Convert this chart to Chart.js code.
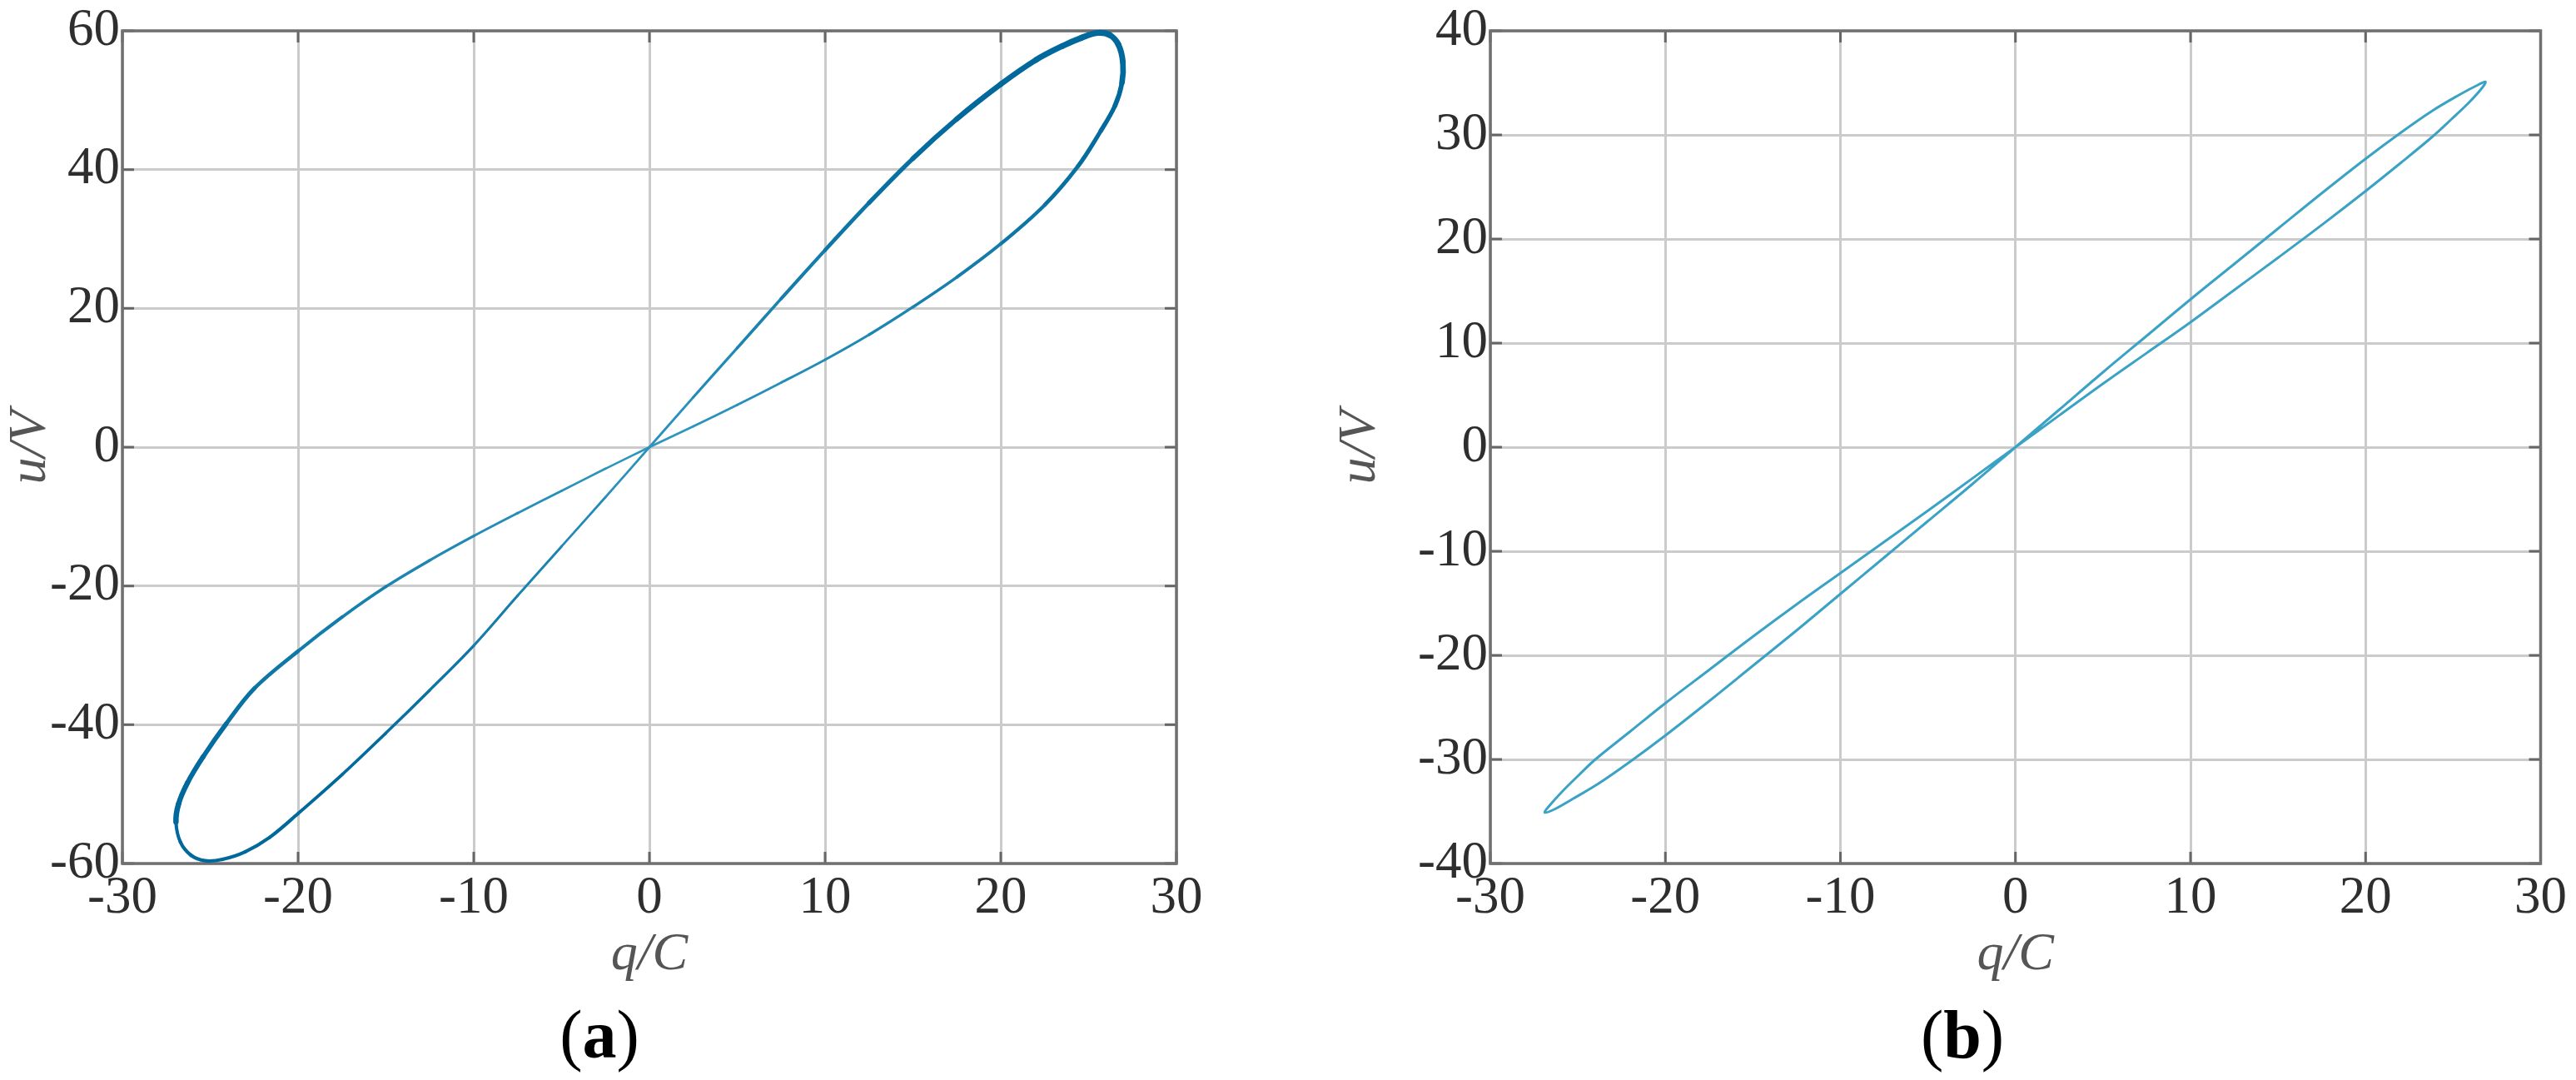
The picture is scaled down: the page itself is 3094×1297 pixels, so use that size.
<!DOCTYPE html>
<html><head><meta charset="utf-8">
<script src="https://cdn.jsdelivr.net/npm/chart.js@4.4.1/dist/chart.umd.min.js"></script>
<style>
html,body{margin:0;padding:0;background:#fff;}
#wrap{position:relative;width:3094px;height:1297px;overflow:hidden;background:#fff;}
.panel{position:absolute;top:0;width:1547px;height:1297px;}
.cap{position:absolute;font-family:"Liberation Serif","Times New Roman",serif;font-size:82px;color:#000;transform:translate(-50%,-50%);line-height:1;white-space:nowrap;}
</style></head><body>
<div id="wrap">
<div class="panel" style="left:0"><canvas id="ca" width="1547" height="1297"></canvas></div>
<div class="panel" style="left:1547px"><canvas id="cb" width="1547" height="1297"></canvas></div>
<div class="cap" style="left:720px;top:1243px">(<b>a</b>)</div>
<div class="cap" style="left:2357px;top:1243px">(<b>b</b>)</div>
</div>
<script>
// ---- tick labels ----
const xTicks = [-30, -20, -10, 0, 10, 20, 30];
const yTicksA = [-60, -40, -20, 0, 20, 40, 60];
const yTicksB = [-40, -30, -20, -10, 0, 10, 20, 30, 40];
const xTitle = 'q/C';
const yTitle = 'u/V';

// ---- panel (a): pinched hysteresis loop, q/C vs u/V (traversal order) ----
const qA = [0, 2.5, 5, 7.5, 10, 12.5, 15, 17.5, 20, 22, 23.5, 24.6, 25.5, 26.2, 26.7, 26.95, 26.9, 26.5, 25.7, 24.4, 22.5, 20, 17.5, 15, 12.5, 10, 7.5, 5, 2.5,
  0, -2.5, -5, -7.5, -10, -12.5, -15, -17.5, -20, -22.5, -24.1, -25.4, -26.3, -26.8, -26.95, -26.7, -26.1, -25.3, -24.3, -23.0, -21.6, -20, -17.5, -15, -12.5, -10, -7.5, -5, -2.5, 0];
const uA = [0, 7.2, 14.3, 21.4, 28.4, 35.2, 41.6, 47.3, 52.3, 55.8, 57.8, 59.0, 59.7, 59.4, 58.0, 55.5, 52.5, 49.2, 45.6, 40.5, 34.9, 29.3, 24.5, 20.2, 16.2, 12.6, 9.3, 6.1, 3.0,
  0, -3.1, -6.3, -9.5, -12.8, -16.3, -20.1, -24.5, -29.4, -34.8, -39.9, -44.6, -48.4, -51.4, -54.0, -56.9, -58.8, -59.6, -59.4, -58.3, -56.2, -52.8, -47.2, -41.2, -35.0, -28.6, -21.4, -14.3, -7.2, 0];

// ---- panel (b): narrow loop (traversal order) ----
const qB = [0, 2.5, 5, 7.5, 10, 12.5, 15, 17.5, 20, 22, 23.8, 25.3, 26.3, 26.85, 26.6, 25.9, 24.9, 23.8, 22, 20, 17.5, 15, 12.5, 10, 7.5, 5, 2.5,
  0, -2.5, -5, -7.5, -10, -12.5, -15, -17.5, -20, -22, -24, -25.0, -25.9, -26.6, -26.9, -26.35, -25.3, -23.8, -22, -20, -17.5, -15, -12.5, -10, -7.5, -5, -2.5, 0];
const uB = [0, 3.6, 7.2, 10.7, 14.2, 17.6, 21.0, 24.4, 27.7, 30.2, 32.3, 33.8, 34.7, 35.1, 34.4, 33.1, 31.5, 29.8, 27.3, 24.6, 21.35, 18.2, 15.1, 12.0, 9.05, 6.1, 3.05,
  0, -3.05, -6.1, -9.1, -12.1, -15.1, -18.2, -21.4, -24.6, -27.3, -30, -31.6, -33.1, -34.4, -35.1, -34.8, -33.8, -32.3, -30.2, -27.7, -24.4, -21.0, -17.6, -14.1, -10.6, -7.1, -3.6, 0];

const FONT = '"Liberation Serif", "Times New Roman", serif';
const GRID = '#cbcbcb';

const boxPlugin = {
  id: 'box',
  beforeDatasetsDraw(chart) {
    const { ctx, chartArea: a, scales: { x, y } } = chart;
    ctx.save();
    ctx.strokeStyle = '#666';
    ctx.lineWidth = 3;
    ctx.beginPath();
    const L = 14;
    x.ticks.forEach(t => {
      const p = x.getPixelForValue(t.value);
      ctx.moveTo(p, a.bottom); ctx.lineTo(p, a.bottom - L);
      ctx.moveTo(p, a.top); ctx.lineTo(p, a.top + L);
    });
    y.ticks.forEach(t => {
      const p = y.getPixelForValue(t.value);
      ctx.moveTo(a.left, p); ctx.lineTo(a.left + L, p);
      ctx.moveTo(a.right, p); ctx.lineTo(a.right - L, p);
    });
    ctx.stroke();
    ctx.strokeStyle = '#707070';
    ctx.lineWidth = 3.5;
    ctx.strokeRect(a.left, a.top, a.right - a.left, a.bottom - a.top);
    ctx.restore();
  }
};

function mix(c1, c2, t) {
  const r = Math.round(c1[0] + (c2[0] - c1[0]) * t);
  const g = Math.round(c1[1] + (c2[1] - c1[1]) * t);
  const b = Math.round(c1[2] + (c2[2] - c1[2]) * t);
  return `rgb(${r},${g},${b})`;
}

function makeChart(id, q, u, yTicks, yMin, yMax, cfg) {
  const pts = q.map((v, i) => ({ x: v, y: u[i] }));
  return new Chart(document.getElementById(id), {
    type: 'scatter',
    data: { datasets: [{
      data: pts, showLine: true, pointRadius: 0, pointHoverRadius: 0,
      borderColor: cfg.color, borderWidth: cfg.width, tension: 0.35, fill: false, clip: 8,
      borderJoinStyle: 'round', borderCapStyle: 'round',
      segment: cfg.segment
    }] },
    options: {
      responsive: false, animation: false, events: [],
      layout: { padding: { top: 37, right: cfg.padRight, bottom: 0, left: 0 } },
      plugins: { legend: { display: false }, tooltip: { enabled: false } },
      scales: {
        x: {
          type: 'linear', min: -30, max: 30,
          afterBuildTicks: s => { s.ticks = xTicks.map(v => ({ value: v })); },
          afterFit: s => { s.height = 260; },
          grid: { color: GRID, lineWidth: 3, drawTicks: false },
          border: { display: false },
          ticks: { padding: 11, font: { family: FONT, size: 63, lineHeight: 1 }, color: '#2e2e2e', maxRotation: 0, autoSkip: false, callback: v => String(v) },
          title: { display: true, text: xTitle, font: { family: FONT, size: 64, style: 'italic', lineHeight: 1 }, color: '#555', padding: { top: 0, bottom: 118 } }
        },
        y: {
          type: 'linear', min: yMin, max: yMax,
          afterBuildTicks: s => { s.ticks = yTicks.map(v => ({ value: v })); },
          afterFit: s => { s.width = cfg.yWidth; },
          grid: { color: GRID, lineWidth: 3, drawTicks: false },
          border: { display: false },
          ticks: { padding: 3, font: { family: FONT, size: 63, lineHeight: 1 }, color: '#2e2e2e', autoSkip: false, callback: v => String(v) },
          title: { display: true, text: yTitle, font: { family: FONT, size: 64, style: 'italic', lineHeight: 1 }, color: '#555', padding: { top: cfg.yTitlePad, bottom: 0 } }
        }
      }
    },
    plugins: [boxPlugin]
  });
}

const dark = [0, 104, 155], light = [48, 152, 192];
const segA = {
  borderWidth: c => {
    const p0 = c.p0.parsed, p1 = c.p1.parsed;
    const m = Math.max(Math.abs(p0.y), Math.abs(p1.y)) / 60;
    const above = (p0.y + p1.y) / 2 > (p0.x + p1.x);
    const k = above ? 1 : (p0.x > 0 ? 0.8 : 0.35);
    return 2.6 + 4.6 * Math.pow(m, 1.5) * k;
  },
  borderColor: c => {
    const p0 = c.p0.parsed, p1 = c.p1.parsed;
    const m = Math.max(Math.abs(p0.y), Math.abs(p1.y)) / 60;
    return mix(light, dark, Math.min(1, m * 1.2));
  }
};

makeChart('ca', qA, uA, yTicksA, -60, 60, { color: '#137fb0', width: 3, padRight: 134, yWidth: 147, yTitlePad: 5, segment: segA });
makeChart('cb', qB, uB, yTicksB, -40, 40, { color: '#3aa2c4', width: 3, padRight: 38, yWidth: 243, yTitlePad: 55, segment: undefined });
</script>
</body></html>
